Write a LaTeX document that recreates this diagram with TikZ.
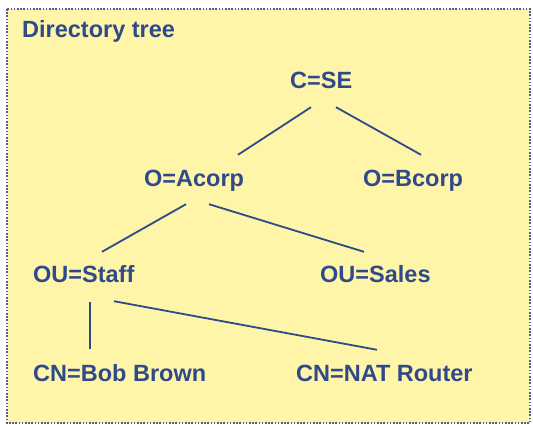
\documentclass[tikz,border=0pt]{standalone}
\usepackage{fontspec}
\setmainfont{Liberation Sans}
\usepackage{xcolor}
\usetikzlibrary{calc}

\definecolor{dirblue}{HTML}{2E4A8A}
\definecolor{diryellow}{HTML}{FFF5A8}
\definecolor{dirframe}{HTML}{4A5C9E}

\begin{document}
\begin{tikzpicture}[
    x=1pt, y=-1pt,
    entry/.style={anchor=base west, inner sep=0pt, text height=17pt, text depth=5pt, font=\fontsize{23.5}{26}\selectfont\bfseries, text=dirblue},
    branch/.style={draw=dirblue, line width=1.8pt}
]

% Frame
\useasboundingbox (0,0) rectangle (533,425);
\draw[fill=diryellow, draw=dirframe, line width=1.6pt, dash pattern=on 1.6pt off 1.6pt] (7,9) rectangle (530,423);

% Nodes
\node[entry] (title) at (22,38) {Directory tree};
\node[entry] (cse) at (290,89) {C=SE};
\node[entry] (acorp) at (144,186) {O=Acorp};
\node[entry] (bcorp) at (363,186) {O=Bcorp};
\node[entry] (staff) at (33,282) {OU=Staff};
\node[entry] (sales) at (320,282) {OU=Sales};
\node[entry] (bob) at (33,381) {CN=Bob Brown};
\node[entry] (nat) at (296,381) {CN=NAT Router};

% Connections
\draw[branch] ($(cse.south west)+(21,13)$) -- ($(acorp.north west)+(94,-14)$);
\draw[branch] ($(cse.south west)+(46,13)$) -- ($(bcorp.north west)+(58,-14)$);
\draw[branch] ($(acorp.south west)+(42,13)$) -- ($(staff.north west)+(69,-13)$);
\draw[branch] ($(acorp.south west)+(65,13)$) -- ($(sales.north west)+(44,-13)$);
\draw[branch] ($(staff.south west)+(57,15)$) -- ($(bob.north west)+(57,-15)$);
\draw[branch] ($(staff.south west)+(81,14)$) -- ($(nat.north west)+(81,-14)$);

\end{tikzpicture}
\end{document}
